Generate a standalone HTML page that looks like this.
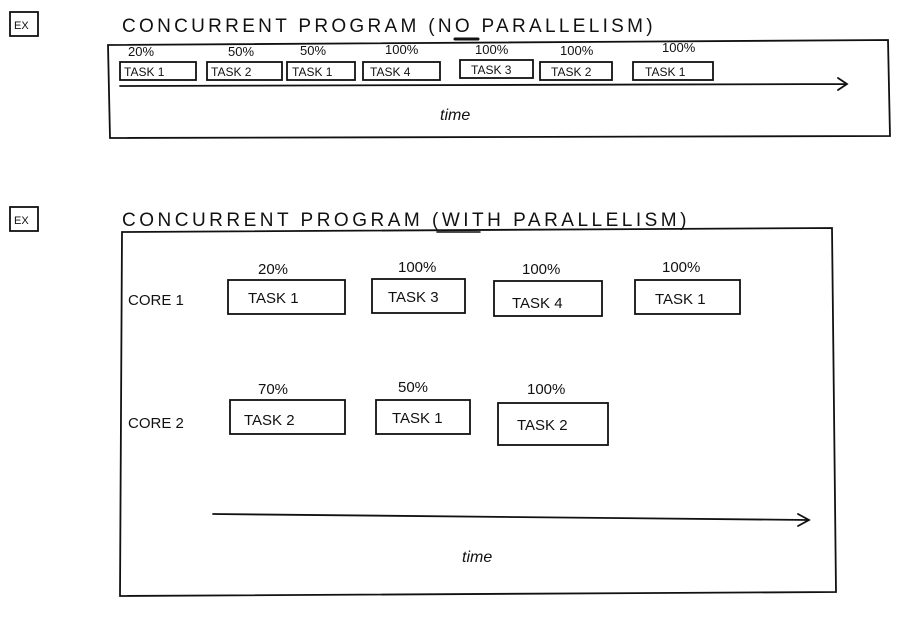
<!DOCTYPE html>
<html><head><meta charset="utf-8"><style>
body{margin:0;background:#fff}
svg{display:block}
text{font-family:"Liberation Sans",sans-serif;fill:#111}
</style></head><body>
<svg width="900" height="618" viewBox="0 0 900 618" xmlns="http://www.w3.org/2000/svg">
<g fill="none" stroke="#111" stroke-width="1.8" stroke-linecap="round">
<rect x="10" y="12" width="28" height="24"/>
<rect x="10" y="207" width="28" height="24"/>
<path d="M108 45 L888 40 L890 136 L110 138 Z"/>
<path d="M120 86 L846 84 M838 78 L847 84 L838 90"/>
<rect x="120" y="62" width="76" height="18"/>
<rect x="207" y="62" width="75" height="18"/>
<rect x="287" y="62" width="68" height="18"/>
<rect x="363" y="62" width="77" height="18"/>
<rect x="460" y="60" width="73" height="18"/>
<rect x="540" y="62" width="72" height="18"/>
<rect x="633" y="62" width="80" height="18"/>
<path d="M122 232 L832 228 L836 592 L120 596 Z"/>
<rect x="228" y="280" width="117" height="34"/>
<rect x="372" y="279" width="93" height="34"/>
<rect x="494" y="281" width="108" height="35"/>
<rect x="635" y="280" width="105" height="34"/>
<rect x="230" y="400" width="115" height="34"/>
<rect x="376" y="400" width="94" height="34"/>
<rect x="498" y="403" width="110" height="42"/>
<path d="M213 514 L808 520 M798 514 L809 520 L798 526"/>
<path d="M455 39 L478 39" stroke-width="3"/>
<path d="M437 232 L480 232" stroke-width="1.5"/>
</g>
<g font-size="11">
<text x="14" y="29">EX</text><text x="14" y="224">EX</text>
</g>
<text x="122" y="32" font-size="19" letter-spacing="3.3">CONCURRENT PROGRAM (NO PARALLELISM)</text>
<text x="122" y="226" font-size="19" letter-spacing="3.5">CONCURRENT PROGRAM (WITH PARALLELISM)</text>
<g font-size="13">
<text x="128" y="56">20%</text><text x="228" y="56">50%</text><text x="300" y="55">50%</text>
<text x="385" y="54">100%</text><text x="475" y="54">100%</text><text x="560" y="55">100%</text><text x="662" y="52">100%</text>
</g>
<g font-size="12">
<text x="124" y="76">TASK 1</text><text x="211" y="76">TASK 2</text><text x="292" y="76">TASK 1</text>
<text x="370" y="76">TASK 4</text><text x="471" y="74">TASK 3</text><text x="551" y="76">TASK 2</text><text x="645" y="76">TASK 1</text>
</g>
<text x="440" y="120" font-size="16" font-style="italic">time</text>
<g font-size="15">
<text x="258" y="274">20%</text><text x="398" y="272">100%</text><text x="522" y="274">100%</text><text x="662" y="272">100%</text>
<text x="258" y="394">70%</text><text x="398" y="392">50%</text><text x="527" y="394">100%</text>
<text x="128" y="305">CORE 1</text><text x="128" y="428">CORE 2</text>
<text x="248" y="303">TASK 1</text><text x="388" y="302">TASK 3</text><text x="512" y="308">TASK 4</text><text x="655" y="304">TASK 1</text>
<text x="244" y="425">TASK 2</text><text x="392" y="423">TASK 1</text><text x="517" y="430">TASK 2</text>
</g>
<text x="462" y="562" font-size="16" font-style="italic">time</text>
</svg>
</body></html>
